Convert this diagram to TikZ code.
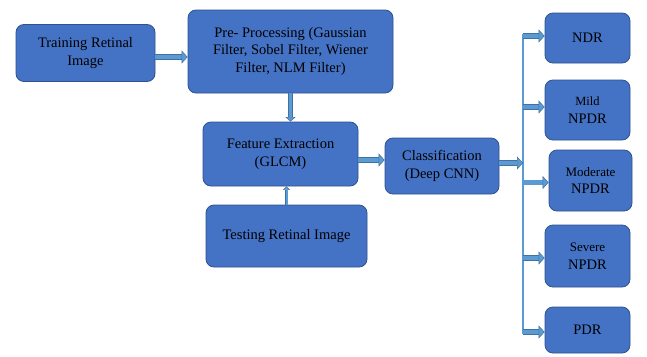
\documentclass[tikz,border=0pt]{standalone}
\usepackage{fontspec}
\setmainfont{Liberation Serif}
\usepackage{xcolor}
\usetikzlibrary{positioning,arrows.meta,calc}
\definecolor{boxfill}{HTML}{4472C4}
\definecolor{boxedge}{HTML}{2F528F}
\definecolor{arrfill}{HTML}{5B9BD5}
\definecolor{arredge}{HTML}{41719C}

\begin{document}
\begin{tikzpicture}[
  x=1pt,y=-1pt,
  font=\fontsize{14.5}{17.5}\selectfont,
  %--- node styles ---
  stage/.style ={draw=boxedge,thick,fill=boxfill,text=black,rounded corners=8pt,
                 align=center,inner sep=2pt},
  grade/.style ={stage,minimum width=85pt},
  %--- arrow styles ---
  flow/.style  ={draw=arredge,line width=0.5pt,double=arrfill,double distance=4.5pt,
                 -{Triangle[length=6pt,width=13pt,fill=arrfill]}},
  midflow/.style={draw=arredge,line width=0.5pt,double=arrfill,double distance=3.5pt,
                 -{Triangle[length=4.5pt,width=10pt,fill=arrfill]}},
  thinflow/.style={draw=arredge,line width=0.4pt,double=arrfill,double distance=2pt,
                 -{Triangle[length=3.5pt,width=7pt,fill=arrfill]}},
  bus/.style   ={draw=arredge,line width=0.4pt,double=arrfill,double distance=2pt},
]
\useasboundingbox[fill=white] (0,0) rectangle (647,356);

%==================== pipeline ====================
\node[stage,minimum width=139pt,minimum height=57pt] (train) at (85.5,53)
  {Training Retinal\\Image};
\node[stage,minimum width=205pt,minimum height=83pt] (pre) at (290.5,51.5)
  {Pre- Processing (Gaussian\\Filter, Sobel Filter, Wiener\\Filter, NLM Filter)};
\node[stage,minimum width=155pt,minimum height=64pt] (feat) at (280.5,154)
  {Feature Extraction\\(GLCM)};
\node[stage,minimum width=161pt,minimum height=62pt] (test) at (286.5,236)
  {Testing Retinal Image};
\node[stage,minimum width=114pt,minimum height=56pt] (class) at (442,166)
  {Classification\\(Deep CNN)};

%==================== grades ====================
\node[grade,minimum height=50pt] (ndr)  at (587.5,38)  {NDR};
\node[grade,minimum height=60pt] (mild) at (587.5,110)
  {{\fontsize{12.5}{15}\selectfont Mild}\\NPDR};
\node[grade,minimum height=61pt,minimum width=83pt] (mod) at (590.5,180.5)
  {{\fontsize{13}{15}\selectfont Moderate}\\NPDR};
\node[grade,minimum height=62pt] (sev)  at (587.5,256)
  {{\fontsize{13}{15}\selectfont Severe}\\NPDR};
\node[grade,minimum height=46pt] (pdr)  at (587.5,330) {PDR};

%==================== links ====================
\draw[flow] ([yshift=-4pt]train.east) -- ([yshift=-4pt]train.east -| pre.west);
\draw[midflow] (pre.south) -- (pre.south |- feat.north);
\draw[thinflow] (test.north) -- (test.north |- feat.south);
\draw[flow] ([yshift=-6pt]feat.east) -- ([yshift=-6pt]feat.east -| class.west);

%==================== output bus ====================
\coordinate (bustop) at (523,34);
\coordinate (busbot) at (523,334);
\draw[bus] (bustop) -- (busbot);
\draw[flow] ([yshift=3pt]class.east) -- ([yshift=3pt]class.east -| bustop);
\foreach \g/\dy in {ndr/2pt,mild/3pt,mod/-2pt,sev/-2pt,pdr/-2pt}
  \draw[flow] ([yshift=\dy]\g.west -| bustop) -- ([yshift=\dy]\g.west);

\end{tikzpicture}
\end{document}
